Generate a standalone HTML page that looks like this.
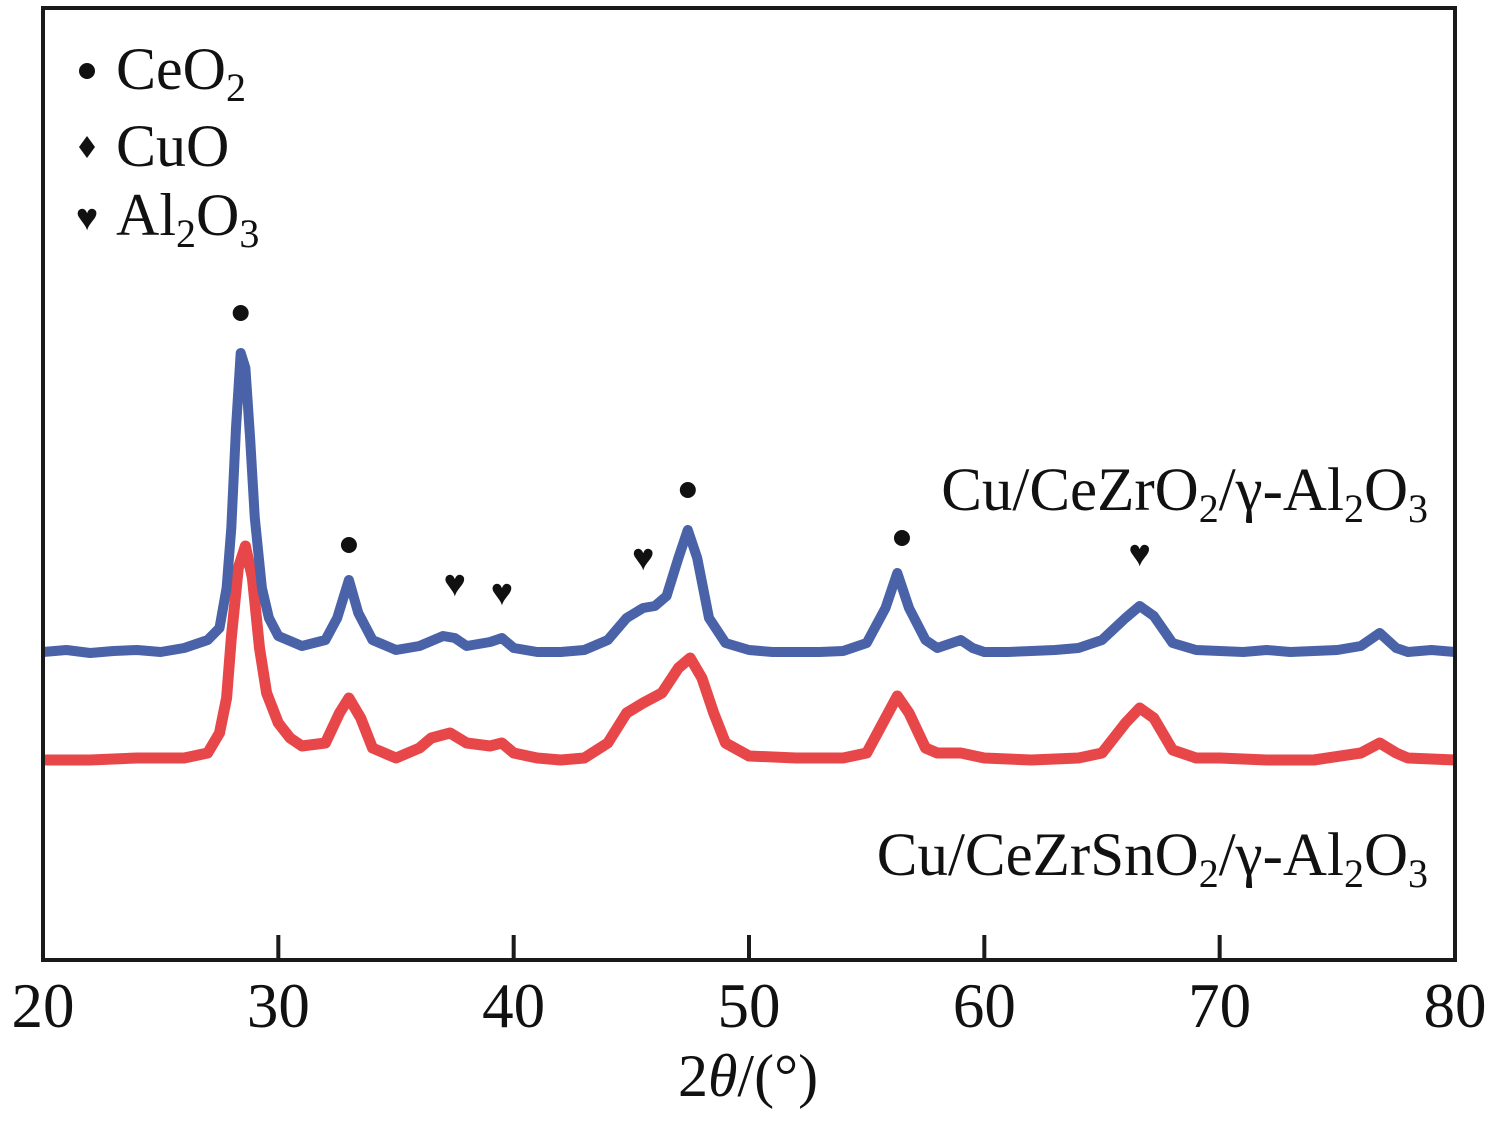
<!DOCTYPE html>
<html><head><meta charset="utf-8"><style>
body{margin:0;background:#fff}
svg text{font-family:"Liberation Serif",serif;fill:#111}
</style></head><body>
<svg width="1499" height="1124">
<g id="plot"></g>
<rect x="43" y="8" width="1412" height="952" fill="none" stroke="#1a1a1a" stroke-width="4"/>
<g id="axis"></g>
<text x="748" y="1096" font-size="60" text-anchor="middle">2<tspan font-style="italic">θ</tspan>/(°)</text>
<g>
<circle cx="87" cy="71" r="8" fill="#111"/>
<text x="116" y="89" font-size="60">CeO<tspan font-size="40" dy="12">2</tspan></text>
<path d="M87 136 L95 147 L87 158 L79 147 Z" fill="#111"/>
<text x="116" y="166" font-size="60">CuO</text>
<text x="87" y="230" font-size="38" text-anchor="middle">♥</text>
<text x="116" y="235" font-size="60">Al<tspan font-size="40" dy="12">2</tspan><tspan dy="-12">O</tspan><tspan font-size="40" dy="12">3</tspan></text>
</g>
<text x="1428" y="510" font-size="61" text-anchor="end">Cu/CeZrO<tspan font-size="40" dy="12">2</tspan><tspan dy="-12">/γ-Al</tspan><tspan font-size="40" dy="12">2</tspan><tspan dy="-12">O</tspan><tspan font-size="40" dy="12">3</tspan></text>
<text x="1428" y="875" font-size="61" text-anchor="end">Cu/CeZrSnO<tspan font-size="40" dy="12">2</tspan><tspan dy="-12">/γ-Al</tspan><tspan font-size="40" dy="12">2</tspan><tspan dy="-12">O</tspan><tspan font-size="40" dy="12">3</tspan></text>
<g id="marks"></g>
</svg>
<script>
const xTicks=[20,30,40,50,60,70,80];
const blueX=[20,21,22,23,24,25,26,27,27.5,27.8,28,28.2,28.4,28.6,28.8,29,29.3,29.6,30,31,32,32.5,33,33.4,34,35,36,37,37.5,38,39,39.5,40,41,42,43,44,44.8,45.5,46,46.5,47,47.4,47.8,48.3,49,50,51,52,53,54,55,55.8,56.3,56.8,57.5,58,59,59.5,60,61,62,63,64,65,66,66.6,67.2,68,69,70,71,72,73,74,75,76,76.8,77.5,78,79,80];
const blueY=[306,308,305,307,308,306,310,318,330,370,430,530,605,590,520,440,370,340,322,312,318,340,378,345,318,308,312,322,320,312,316,320,310,306,306,308,318,340,350,352,362,400,428,400,340,315,308,306,306,306,307,315,350,385,350,318,310,318,310,306,306,307,308,310,318,340,352,342,315,308,307,306,308,306,307,308,312,325,310,306,308,306];
const redX=[20,22,24,26,27,27.5,27.8,28,28.3,28.6,28.9,29.2,29.5,30,30.5,31,32,32.6,33,33.5,34,35,36,36.5,37.3,38,39,39.5,40,41,42,43,44,44.8,45.5,46.3,47,47.5,48,48.5,49,50,52,54,55,55.8,56.3,56.8,57.5,58,59,60,62,64,65,66,66.6,67.2,68,69,70,72,74,76,76.8,77.5,78,80];
const redY=[198,198,200,200,205,225,260,320,390,412,380,310,265,235,220,212,215,245,260,240,210,200,210,220,225,215,212,215,205,200,198,200,215,245,255,265,290,300,280,245,215,202,200,200,205,240,262,245,210,205,205,200,198,200,205,235,250,240,208,200,200,198,198,205,215,205,200,198];
const ceo2Peaks=[[28.4,313],[33,545],[47.4,490],[56.5,538]];
const al2o3Peaks=[[37.5,583],[39.5,592],[45.5,557],[66.6,553]];
const NS="http://www.w3.org/2000/svg";
const xs=v=>43+(v-20)*(1412/60);
const ys=v=>958-v;
const plot=document.getElementById('plot'),axis=document.getElementById('axis'),marks=document.getElementById('marks');
function line(X,Y,color,w,name){
 const p=document.createElementNS(NS,'polyline');
 p.setAttribute('points',X.map((x,i)=>xs(x).toFixed(1)+','+ys(Y[i]).toFixed(1)).join(' '));
 p.setAttribute('fill','none');p.setAttribute('stroke',color);p.setAttribute('stroke-width',w);p.setAttribute('stroke-linejoin','round');
 
 
 plot.appendChild(p);
}
line(redX,redY,'#e8474a',11,'series-cuzrsn');
line(blueX,blueY,'#4a62a8',10,'series-cuzr');
xTicks.forEach(t=>{
 const l=document.createElementNS(NS,'line');
 l.setAttribute('x1',xs(t));l.setAttribute('x2',xs(t));l.setAttribute('y1',958);l.setAttribute('y2',935);
 l.setAttribute('stroke','#1a1a1a');l.setAttribute('stroke-width',4);
 
 
 axis.appendChild(l);
 const tx=document.createElementNS(NS,'text');
 tx.setAttribute('x',xs(t));tx.setAttribute('y',1027);tx.setAttribute('font-size',63);tx.setAttribute('text-anchor','middle');
 tx.textContent=t;
 
 
 axis.appendChild(tx);
});
ceo2Peaks.forEach(p=>{
 const c=document.createElementNS(NS,'circle');
 c.setAttribute('cx',xs(p[0]));c.setAttribute('cy',p[1]);c.setAttribute('r',8);c.setAttribute('fill','#111');
 
 
 marks.appendChild(c);
});
al2o3Peaks.forEach(p=>{
 const t=document.createElementNS(NS,'text');
 t.setAttribute('x',xs(p[0]));t.setAttribute('y',p[1]+13);t.setAttribute('font-size',38);t.setAttribute('text-anchor','middle');
 t.textContent='♥';
 
 
 marks.appendChild(t);
});
</script>
</body></html>
